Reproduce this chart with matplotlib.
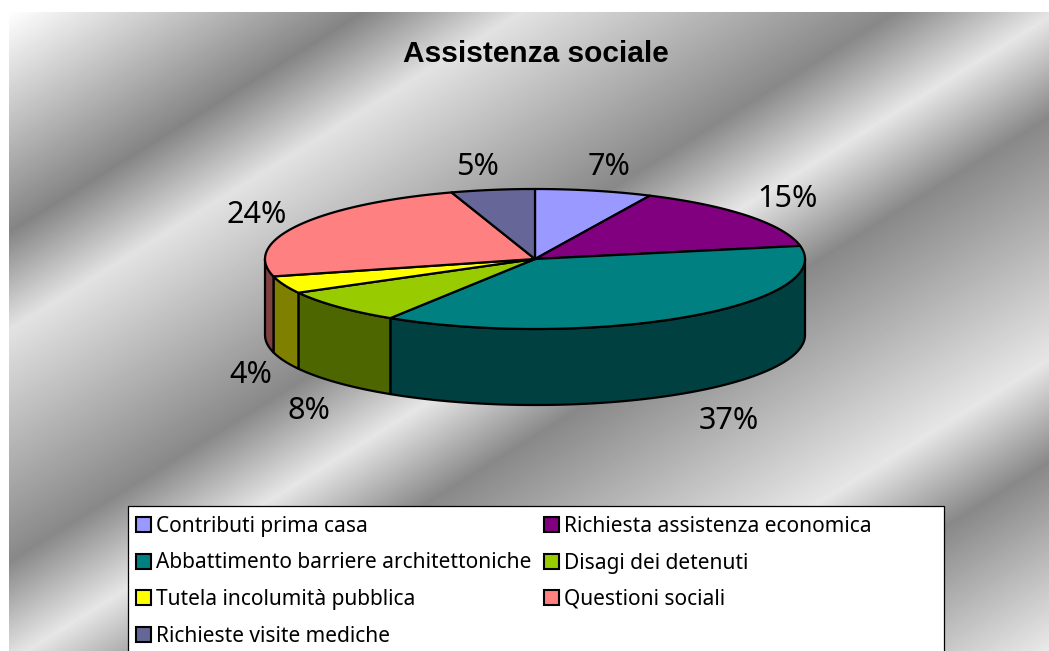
import numpy as np
import matplotlib
matplotlib.use('Agg')
import matplotlib.pyplot as plt
from matplotlib.patches import Rectangle

# Chart data
title = 'Assistenza sociale'
categories = ['Contributi prima casa', 'Richiesta assistenza economica',
              'Abbattimento barriere architettoniche', 'Disagi dei detenuti',
              'Tutela incolumità pubblica', 'Questioni sociali',
              'Richieste visite mediche']
values = [7, 15, 37, 8, 4, 24, 5]
top_colors = ['#9999FF', '#800080', '#008080', '#99CC00', '#FFFF00', '#FF8080', '#666699']
side_colors = ['#4D4D80', '#400040', '#004040', '#4D6600', '#808000', '#804040', '#333350']

# Layout, in pixels of the 1049x651 picture (label centre x, baseline y)
label_xy = [(609, 175), (788, 207), (729, 429), (309, 419), (251, 383), (257, 223), (478, 175)]
cx, cy, rx, ry, depth = 535, 259, 270, 70, 76

# Metallic background: position along the diagonal and grey level
band_pos = [0, 220, 318, 550, 650, 750, 993, 1095, 1284]
band_grey = [255, 132, 226, 136, 230, 136, 230, 136, 234]

plt.rcParams['font.family'] = ['Noto Sans', 'DejaVu Sans']
line_w = 1.6

fig = plt.figure(figsize=(10.49, 6.51), dpi=100, facecolor='white')
ax = fig.add_axes([0, 0, 1, 1])

# Background
xx, yy = np.meshgrid(np.arange(9, 1049) + 0.5, np.arange(12, 651) + 0.5)
t = 0.62 * (xx - 9) + (yy - 12)
bg = np.interp(t, band_pos, band_grey)
ax.imshow(bg, cmap='gray', vmin=0, vmax=255, extent=(9, 1049, 651, 12),
          aspect='auto', interpolation='bilinear', zorder=0)


def rim(a, b):
    th = np.radians(np.linspace(a, b, max(int(abs(b - a) * 2), 2)))
    return cx + rx * np.sin(th), cy - ry * np.cos(th)


edges = np.concatenate([[0], np.cumsum(values)]) / np.sum(values) * 360

# Outer wall, only the front half of the pie shows
for i in range(len(values)):
    a = max(edges[i], 90)
    b = min(edges[i + 1], 270)
    if a >= b:
        continue
    x, y = rim(a, b)
    ax.fill(np.r_[x, x[::-1]], np.r_[y, y[::-1] + depth], facecolor=side_colors[i],
            edgecolor='black', linewidth=line_w, joinstyle='round', zorder=2)

# Top face
for i in range(len(values)):
    x, y = rim(edges[i], edges[i + 1])
    ax.fill(np.r_[cx, x], np.r_[cy, y], facecolor=top_colors[i],
            edgecolor='black', linewidth=line_w, joinstyle='round', zorder=3)

# Percent labels
for v, (lx, ly) in zip(values, label_xy):
    ax.text(lx, ly, f'{v}%', fontsize=22, color='black', ha='center', va='baseline', zorder=4)

ax.text(535.5, 62, title, family='Liberation Sans', fontsize=21.5, fontweight='bold', color='black',
        ha='center', va='baseline', zorder=4)

# Legend box runs off the bottom of the picture
ax.add_patch(Rectangle((127.5, 505.5), 816, 160, facecolor='white', edgecolor='black',
                       linewidth=0.9, zorder=4))
rows_y = [532, 568.5, 605, 642]
for i, name in enumerate(categories):
    col = i % 2
    base = rows_y[i // 2]
    sx = [135.5, 543.5][col]
    ax.add_patch(Rectangle((sx, base - 15), 15, 15, facecolor=top_colors[i], edgecolor='black',
                           linewidth=1.5, zorder=5))
    ax.text([156, 564][col], base, name, fontsize=15.05, color='black',
            ha='left', va='baseline', zorder=5)

ax.set_xlim(0, 1049)
ax.set_ylim(651, 0)
ax.axis('off')

fig.savefig('out.png', dpi=100, facecolor='white')
